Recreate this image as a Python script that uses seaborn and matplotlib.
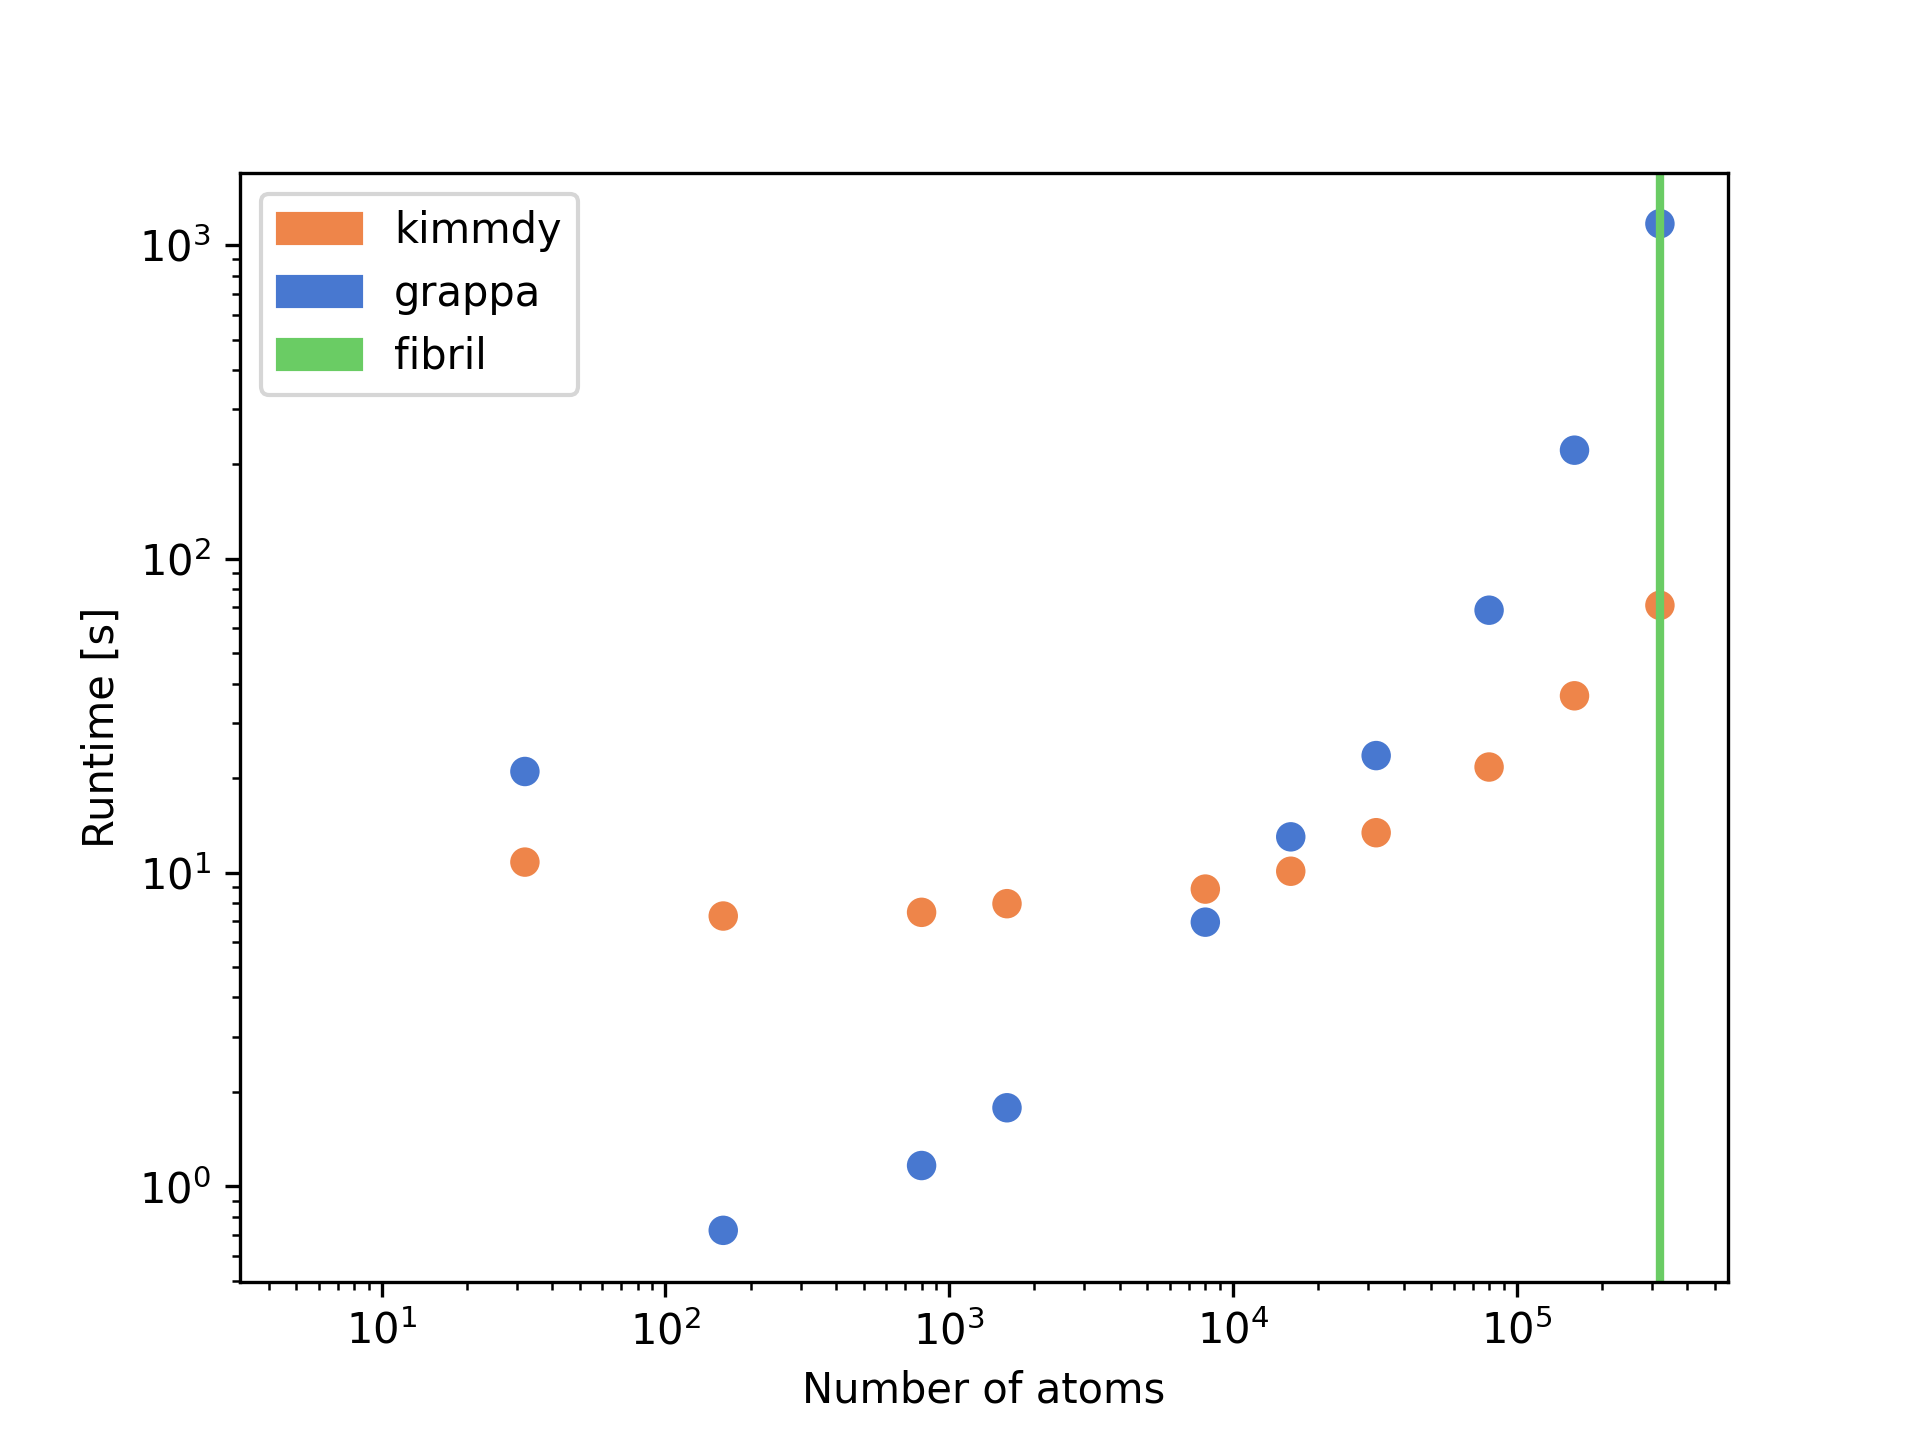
"""
Runtime scaling of kimmdy vs grappa with system size.
"""
import matplotlib
matplotlib.use('Agg')
import matplotlib.pyplot as plt
from matplotlib.patches import Patch
import pandas as pd
import seaborn as sns

atoms = [32, 160, 800, 1600, 8000, 16000, 32000, 80000, 160000, 320000]
kimmdy_runtime = [10.8, 7.27, 7.47, 7.96, 8.86, 10.1, 13.4, 21.7, 36.6, 71.1]
grappa_runtime = [21.0, 0.724, 1.165, 1.78, 6.95, 13.0, 23.6, 68.6, 222, 1170]
fibril_atoms = 320000

df = pd.DataFrame({
    'atoms': atoms * 2,
    'runtime': kimmdy_runtime + grappa_runtime,
    'method': ['kimmdy'] * len(atoms) + ['grappa'] * len(atoms),
})

colors = sns.color_palette('muted')
palette = {'kimmdy': colors[1], 'grappa': colors[0]}

fig, ax = plt.subplots(figsize=(6.4, 4.8))
sns.scatterplot(data=df, x='atoms', y='runtime', hue='method', palette=palette,
                s=50, linewidth=0, legend=False, ax=ax)
ax.axvline(fibril_atoms, color=colors[2], lw=2)
ax.set_xscale('log')
ax.set_yscale('log')
ax.set_xlim(3.17, 5.56e5)
ax.set_ylim(0.497, 1700)
ax.set_xlabel('Number of atoms')
ax.set_ylabel('Runtime [s]')

handles = [Patch(color=colors[1], label='kimmdy'),
           Patch(color=colors[0], label='grappa'),
           Patch(color=colors[2], label='fibril')]
ax.legend(handles=handles, loc='upper left')

plt.savefig('out.png', dpi=300)
